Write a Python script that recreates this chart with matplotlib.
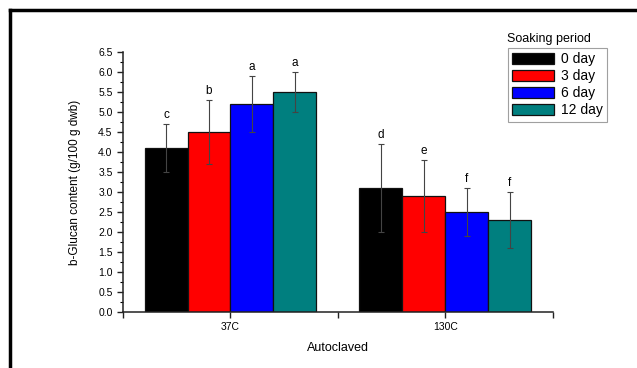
import matplotlib
matplotlib.use("Agg")
import matplotlib.pyplot as plt
from matplotlib.lines import Line2D
import numpy as np

plt.rcParams['font.family'] = ['Liberation Sans', 'DejaVu Sans']

groups = ['37C', '130C']
periods = ['0 day', '3 day', '6 day', '12 day']
colors = ['#000000', '#ff0000', '#0000ff', '#007f7f']
values = [[4.1, 3.1], [4.5, 2.9], [5.2, 2.5], [5.5, 2.3]]
errors = [[0.6, 1.1], [0.8, 0.9], [0.7, 0.6], [0.5, 0.7]]
letters = [['c', 'd'], ['b', 'e'], ['a', 'f'], ['a', 'f']]

fig = plt.figure(figsize=(6.37, 3.68), dpi=100)
ax = fig.add_axes([0.1931, 0.1522, 0.675, 0.7065])

x = np.arange(1, len(groups) + 1)
w = 0.2
handles = []
for k in range(len(periods)):
    xs = x + (k - 1.5) * w
    b = ax.bar(xs, values[k], w, color=colors[k], edgecolor='#111111',
               linewidth=0.9, label=periods[k])
    handles.append(b)
    ax.errorbar(xs, values[k], yerr=errors[k], fmt='none', ecolor='#444444',
                elinewidth=0.8, capsize=2.3, capthick=0.8)
    for xi, v, e, t in zip(xs, values[k], errors[k], letters[k]):
        ax.annotate(t, (xi, v + e), xytext=(0, 2), textcoords='offset points',
                    ha='center', va='bottom', fontsize=8.5)

ax.set_xlim(0.5, 2.5)
ax.set_ylim(0, 6.5)
ax.set_xticks([0.5, 1, 1.5, 2, 2.5])
ax.set_xticklabels(['', groups[0], '', groups[1], ''], fontsize=7.5)
ax.set_yticks(np.arange(0, 6.51, 0.5))
ax.set_yticklabels(['%.1f' % v for v in np.arange(0, 6.51, 0.5)], fontsize=7.5)
ax.set_yticks(np.arange(0.25, 6.5, 0.5), minor=True)
ax.tick_params(axis='both', direction='out', length=4, width=1, color='#222222')
ax.tick_params(axis='y', which='minor', direction='out', length=2.5, width=0.8)
for s in ['top', 'right']:
    ax.spines[s].set_visible(False)
for s in ['left', 'bottom']:
    ax.spines[s].set_linewidth(1.1)
    ax.spines[s].set_color('#222222')

ax.set_xlabel('Autoclaved', fontsize=9, labelpad=7)
ax.set_ylabel('b-Glucan content (g/100 g dwb)', fontsize=8.5, labelpad=12)

leg = ax.legend(handles=handles, loc='upper right', bbox_to_anchor=(1.1256, 1.015),
                fontsize=10, frameon=True, fancybox=False, edgecolor='#888888',
                handlelength=3.0, handleheight=0.9, handletextpad=0.5,
                labelspacing=0.22, borderpad=0.3, borderaxespad=0)
leg.get_frame().set_linewidth(0.8)
fig.text(0.862, 0.893, 'Soaking period', fontsize=9, ha='center', va='center')

# outer frame lines
fig.add_artist(Line2D([0.0157, 1.0], [0.973, 0.973], color='black', lw=2.5))
fig.add_artist(Line2D([0.0157, 0.0157], [0.0, 0.973], color='black', lw=2.5))

fig.savefig('out.png', dpi=100)
